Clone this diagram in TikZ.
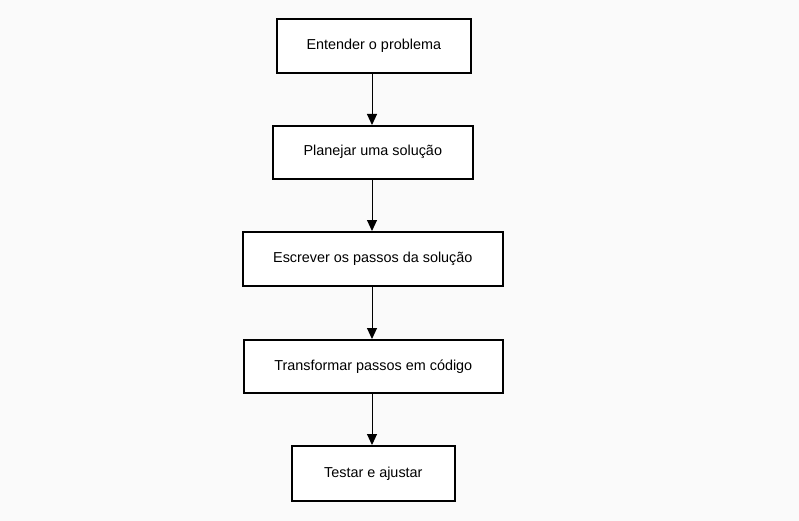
\documentclass[tikz,border=0pt]{standalone}
\usepackage{fontspec}
\setmainfont{Liberation Sans}
\usetikzlibrary{arrows.meta}
\begin{document}
\begin{tikzpicture}[x=1pt,y=-1pt,
  stepbox/.style={draw=black,line width=1.6pt,fill=white,font=\fontsize{14.4}{16}\selectfont,inner sep=0pt,anchor=north west},
  flow/.style={-{Triangle[length=11pt,width=10pt]},line width=1pt}]
\fill[white!98!black] (0,0) rectangle (799,521);
\useasboundingbox (0,0) rectangle (799,521);
\node[stepbox,minimum width=194pt,minimum height=54pt] (a) at (276,18) {Entender o problema};
\node[stepbox,minimum width=200pt,minimum height=53pt] (b) at (272,125) {Planejar uma solução};
\node[stepbox,minimum width=260pt,minimum height=54pt] (c) at (242,231) {Escrever os passos da solução};
\node[stepbox,minimum width=259pt,minimum height=53pt] (d) at (243,339) {Transformar passos em código};
\node[stepbox,minimum width=163pt,minimum height=55pt] (e) at (291,445) {Testar e ajustar};
\draw[flow] (a.south -| 372,0) -- (b.north -| 372,0);
\draw[flow] (b.south -| 372,0) -- (c.north -| 372,0);
\draw[flow] (c.south -| 372,0) -- (d.north -| 372,0);
\draw[flow] (d.south -| 372,0) -- (e.north -| 372,0);
\end{tikzpicture}
\end{document}
